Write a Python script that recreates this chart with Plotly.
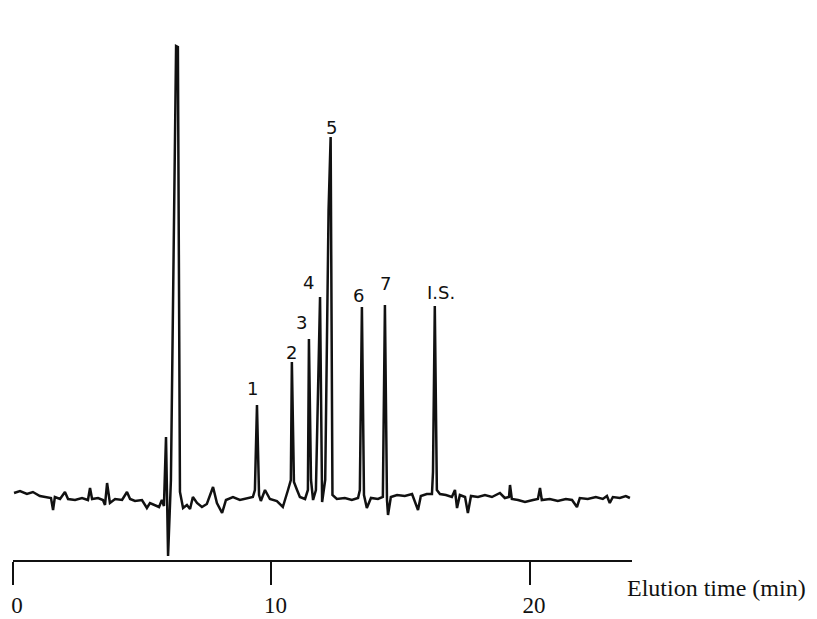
import plotly.graph_objects as go

# Elution time (min) and detector response (arbitrary units)
time_min = [0.04, 0.27, 0.54, 0.77, 1.04, 1.32, 1.47, 1.55, 1.62, 1.82, 2.01, 2.13, 2.40, 2.67,
            2.90, 2.98, 3.06, 3.29, 3.48, 3.56, 3.64, 3.75, 3.95, 4.22, 4.41, 4.53, 4.72, 4.99,
            5.18, 5.30, 5.49, 5.65, 5.76, 5.84, 5.92, 6.00, 6.11, 6.31, 6.38, 6.46, 6.58, 6.73,
            6.85, 6.96, 7.12, 7.31, 7.50, 7.74, 7.89, 8.09, 8.24, 8.51, 8.78, 9.05, 9.28, 9.36,
            9.44, 9.52, 9.59, 9.75, 9.94, 10.21, 10.44, 10.64, 10.75, 10.79, 10.87, 10.99, 11.10,
            11.30, 11.41, 11.45, 11.53, 11.61, 11.72, 11.88, 11.96, 12.08, 12.21, 12.29, 12.36,
            12.53, 12.84, 13.11, 13.35, 13.42, 13.50, 13.58, 13.69, 13.85, 14.12, 14.31, 14.39,
            14.47, 14.51, 14.62, 14.86, 15.16, 15.44, 15.67, 15.78, 16.01, 16.21, 16.25, 16.32,
            16.40, 16.52, 16.75, 16.98, 17.10, 17.18, 17.29, 17.49, 17.60, 17.72, 17.99, 18.26,
            18.53, 18.84, 19.03, 19.19, 19.23, 19.30, 19.54, 19.81, 20.12, 20.31, 20.39, 20.46,
            20.77, 21.08, 21.39, 21.63, 21.82, 21.93, 22.24, 22.55, 22.82, 22.98, 23.09, 23.21,
            23.48, 23.71, 23.87]
response = [7, 9, 6, 8, 4, 3, 2, -10, 3, 1, 8, 1, 0, 2,
            0, 12, 1, 2, 0, -5, 17, -3, 1, 0, 8, 1, -1, 0,
            -8, -3, -5, -7, 0, -6, 63, -56, 20, 454, 453, 8, -8, -5,
            -9, 3, -3, -7, -4, 13, -3, -13, 0, 3, 0, 2, 3, 10,
            95, 5, -1, 10, 1, -1, -7, 10, 20, 138, 18, 10, 3,
            1, 10, 161, 20, 0, 10, 203, -2, 20, 290, 363, 5,
            1, 2, 0, 2, 10, 193, 5, -8, 2, 1, 3, 195,
            0, -15, 3, 5, 4, 6, -10, 4, 6, 6, 28, 194,
            10, 6, 5, 3, 10, -8, 5, 3, -13, 4, 3, 5,
            3, 7, 2, 3, 15, 1, 0, -2, 0, 1, 12, 0,
            1, -1, 1, 0, -7, 2, 1, 3, 1, 4, -3, 3,
            2, 4, 2]

# Peak labels and their positions
peak_labels = ["Reagent", "1", "2", "3", "4", "5", "6", "7", "I.S."]
label_time = [6.85, 9.28, 10.79, 11.18, 11.45, 12.34, 13.35, 14.43, 16.56]
label_resp = [478, 112, 148, 178, 218, 373, 205, 217, 208]

tick_vals = [0, 10, 20]
tick_text = ["0", "10", "20"]

fig = go.Figure()
fig.add_trace(go.Scatter(
    x=time_min, y=response, mode="lines",
    line=dict(color="#111111", width=2.5),
    showlegend=False, hoverinfo="skip",
))

for lab, tx, ty in zip(peak_labels, label_time, label_resp):
    fig.add_annotation(x=tx, y=ty, xref="x", yref="y", text=lab, showarrow=False,
                       xanchor="center", yanchor="middle",
                       font=dict(family="DejaVu Sans", size=18, color="#111111"))

fig.add_annotation(x=1.137, y=-0.054, xref="paper", yref="paper",
                   text="Elution time (min)", showarrow=False,
                   xanchor="center", yanchor="middle",
                   font=dict(family="Liberation Serif", size=24, color="#111111"))

fig.update_layout(
    width=809, height=611,
    margin=dict(l=5, r=185, t=32, b=59, autoexpand=False),
    paper_bgcolor="white", plot_bgcolor="white",
    xaxis=dict(range=[0, 23.95], showgrid=False, zeroline=False, automargin=False,
               showline=True, linecolor="#111111", linewidth=2,
               ticks="outside", ticklen=23, tickwidth=1.5, tickcolor="#111111",
               tickvals=tick_vals, ticktext=tick_text,
               ticklabelstandoff=0, ticklabelshift=4, ticklabeloverflow="allow",
               tickfont=dict(family="Liberation Serif", size=23, color="#111111")),
    yaxis=dict(range=[-60, 460], visible=False, automargin=False),
)

fig.write_html("out.html")
